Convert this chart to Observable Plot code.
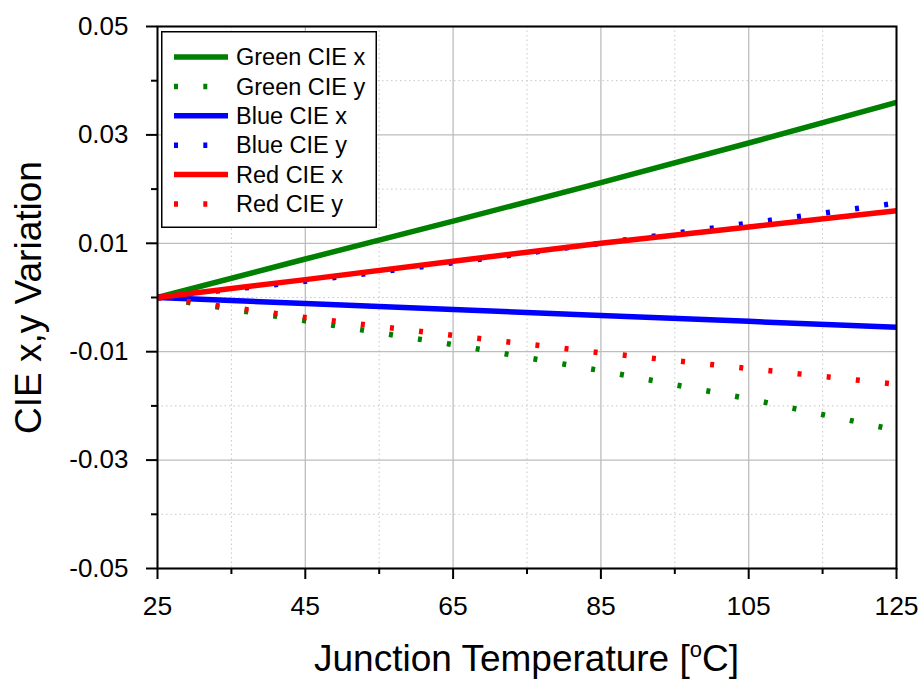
<!DOCTYPE html>
<html>
<head>
<meta charset="utf-8">
<script src="https://cdn.jsdelivr.net/npm/d3@7"></script>
<script src="https://cdn.jsdelivr.net/npm/@observablehq/plot@0.6"></script>
<style>
  html, body { margin: 0; padding: 0; background: #fff; }
  #wrap { position: relative; width: 923px; height: 684px; font-family: "Liberation Sans", Arial, sans-serif; }
  #xtitle { position: absolute; left: 0; width: 923px; top: 640px; text-align: center; font-size: 37px; line-height: 1; }
  #xtitle .inner { position: relative; left: 65px; }
  #xtitle sup { font-size: 22px; vertical-align: 0; position: relative; top: -14px; }
  #legend { position: absolute; left: 161px; top: 31px; }
</style>
</head>
<body>
<div id="wrap"></div>
<script>
// Data
const temps = [25, 45, 65, 85, 105, 125];
const greenX = [0, 0.0071, 0.0141, 0.0212, 0.0285, 0.0360];
const greenY = [0, -0.0043, -0.0087, -0.0135, -0.0187, -0.0245];
const blueX  = [0, -0.0011, -0.0022, -0.0033, -0.0044, -0.0055];
const blueY  = [0, 0.0030, 0.0064, 0.0100, 0.0137, 0.0174];
const redX   = [0, 0.0033, 0.0067, 0.0100, 0.0130, 0.0160];
const redY   = [0, -0.0037, -0.0070, -0.0102, -0.0131, -0.0160];

const seriesNames = ["Green CIE x", "Green CIE y", "Blue CIE x", "Blue CIE y", "Red CIE x", "Red CIE y"];
const seriesValues = [greenX, greenY, blueX, blueY, redX, redY];
const seriesColors = ["#008000", "#008000", "#0000ff", "#0000ff", "#ff0000", "#ff0000"];
const seriesDotted = [false, true, false, true, false, true];

const xTicks = [25, 45, 65, 85, 105, 125];
const xMinor = [35, 55, 75, 95, 115];
const yTicks = [-0.05, -0.03, -0.01, 0.01, 0.03, 0.05];
const yMinor = [-0.04, -0.02, 0, 0.02, 0.04];

const yTitle = "CIE x,y Variation";

const DASH = "4,25.3";
const LW = 5.5;

const lineMarks = seriesNames.map((name, s) =>
  Plot.line(temps, {
    x: d => d,
    y: (d, i) => seriesValues[s][i],
    stroke: seriesColors[s],
    strokeWidth: LW,
    strokeDasharray: seriesDotted[s] ? DASH : null,
    strokeLinecap: "butt"
  })
);

const chart = Plot.plot({
  width: 923,
  height: 684,
  marginLeft: 157,
  marginRight: 27,
  marginTop: 26,
  marginBottom: 116,
  style: { fontFamily: "'Liberation Sans', Arial, sans-serif", background: "#fff", color: "#000" },
  x: { domain: [25, 125] },
  y: { domain: [-0.05, 0.05] },
  marks: [
    // grid
    Plot.ruleX(xMinor, { stroke: "#c8c8c8", strokeWidth: 1, strokeDasharray: "1.5,3" }),
    Plot.ruleY(yMinor, { stroke: "#c8c8c8", strokeWidth: 1, strokeDasharray: "1.5,3" }),
    Plot.ruleX(xTicks, { stroke: "#bdbdbd", strokeWidth: 1.3 }),
    Plot.ruleY(yTicks, { stroke: "#bdbdbd", strokeWidth: 1.3 }),
    ...lineMarks,
    Plot.frame({ stroke: "#000", strokeWidth: 2 }),
    // axes
    Plot.axisX(xTicks, { anchor: "bottom", tickSize: 11, tickPadding: 17, fontSize: 26.5, strokeWidth: 2, label: null, tickFormat: d => String(d) }),
    Plot.axisX(xMinor, { anchor: "bottom", tickSize: 6, strokeWidth: 2, label: null, tickFormat: () => "" }),
    Plot.axisY(yTicks, { anchor: "left", tickSize: 11, tickPadding: 18, fontSize: 26, strokeWidth: 2, label: null, tickFormat: d => d.toFixed(2) }),
    Plot.axisY(yMinor, { anchor: "left", tickSize: 6, strokeWidth: 2, label: null, tickFormat: () => "" }),
    // y title
    Plot.text([yTitle], { text: d => d, frameAnchor: "left", textAnchor: "middle", lineAnchor: "middle", dx: -128, rotate: -90, fontSize: 37, fill: "#000" })
  ]
});

const wrap = document.getElementById("wrap");
wrap.appendChild(chart);

// x title (with superscript o)
const xt = document.createElement("div");
xt.id = "xtitle";
xt.innerHTML = '<span class="inner">Junction Temperature [<sup>o</sup>C]</span>';
wrap.appendChild(xt);

// legend
const LWID = 216, LHGT = 197;
const leg = d3.create("svg").attr("width", LWID).attr("height", LHGT)
  .style("font-family", "'Liberation Sans', Arial, sans-serif");
leg.append("rect").attr("x", 0.75).attr("y", 0.75).attr("width", LWID - 1.5).attr("height", LHGT - 1.5)
  .attr("fill", "#fff").attr("stroke", "#000").attr("stroke-width", 1.5);
seriesNames.forEach((name, s) => {
  const cy = 26 + s * 29.4;
  leg.append("line").attr("x1", 13).attr("x2", 67).attr("y1", cy).attr("y2", cy)
    .attr("stroke", seriesColors[s]).attr("stroke-width", LW)
    .attr("stroke-dasharray", seriesDotted[s] ? DASH : null);
  leg.append("text").attr("x", 75).attr("y", cy).attr("dy", "0.35em")
    .attr("font-size", 23.5).attr("fill", "#000").text(name);
});
const legDiv = document.createElement("div");
legDiv.id = "legend";
legDiv.appendChild(leg.node());
wrap.appendChild(legDiv);
</script>
</body>
</html>
